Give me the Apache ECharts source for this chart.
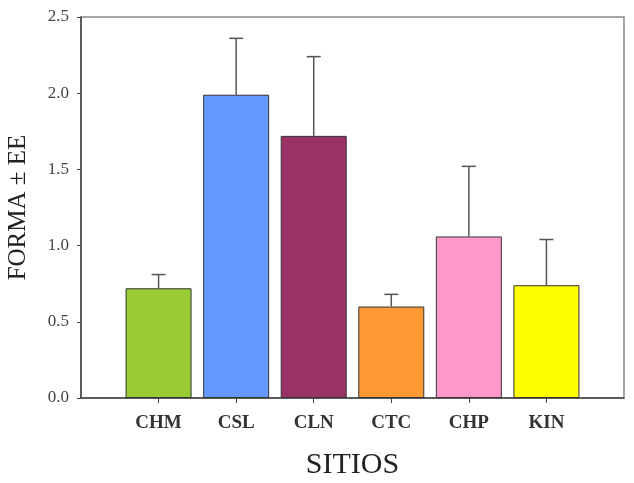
<!DOCTYPE html>
<html>
<head>
<meta charset="utf-8">
<script src="https://cdn.jsdelivr.net/npm/echarts@6/dist/echarts.min.js"></script>
<style>html,body{margin:0;padding:0;background:#fff}#c{width:634px;height:483px}</style>
</head>
<body>
<div id="c"></div>
<script>
const categories = ['CHM', 'CSL', 'CLN', 'CTC', 'CHP', 'KIN'];
const means = [0.72, 1.99, 1.72, 0.60, 1.06, 0.74];
const errors = [0.09, 0.37, 0.52, 0.08, 0.46, 0.30];
const colors = ['#99CC33', '#6699FF', '#993366', '#FF9933', '#FF99CC', '#FFFF00'];
const yTicks = ['0.0', '0.5', '1.0', '1.5', '2.0', '2.5'];

const axisCats = [''].concat(categories, ['']);
const barData = [{value: '-'}].concat(categories.map((c, i) => ({
  value: means[i], itemStyle: {color: colors[i]}
})), [{value: '-'}]);
const errData = categories.map((c, i) => [i + 1, means[i], means[i] + errors[i]]);

const chart = echarts.init(document.getElementById('c'), null, {renderer: 'canvas'});
chart.setOption({
  animation: false,
  backgroundColor: '#fff',
  grid: {left: 81, top: 17, right: 10, bottom: 85, show: true, borderColor: '#888', borderWidth: 1.5, containLabel: false, outerBoundsMode: 'none'},
  xAxis: {
    type: 'category',
    data: axisCats,
    boundaryGap: false,
    name: 'SITIOS',
    nameLocation: 'middle',
    nameGap: 52,
    nameTextStyle: {fontFamily: 'Liberation Serif', fontSize: 30, color: '#222'},
    axisLine: {lineStyle: {color: '#444', width: 1.5}},
    axisTick: {show: true, length: 5, lineStyle: {color: '#444'}, interval: (i) => i > 0 && i < axisCats.length - 1},
    axisLabel: {interval: 0, margin: 16, fontFamily: 'Liberation Serif', fontSize: 19, fontWeight: 'bold', color: '#333'},
    splitLine: {show: false}
  },
  yAxis: {
    type: 'value',
    min: 0, max: 2.5, interval: 0.5,
    name: 'FORMA ± EE',
    nameLocation: 'middle',
    nameGap: 50,
    nameTextStyle: {fontFamily: 'Liberation Serif', fontSize: 25, color: '#222'},
    axisLine: {show: true, lineStyle: {color: '#444', width: 1.5}},
    axisTick: {show: true, length: 4, lineStyle: {color: '#444'}},
    axisLabel: {margin: 12, fontFamily: 'Liberation Serif', fontSize: 17, color: '#444',
      formatter: (v) => yTicks[Math.round(v / 0.5)]},
    splitLine: {show: false}
  },
  series: [
    {
      type: 'custom',
      z: 1,
      data: errData,
      renderItem: function (params, api) {
        const x = api.value(0);
        const p0 = api.coord([x, api.value(1)]);
        const p1 = api.coord([x, api.value(2)]);
        const cap = 7;
        return {
          type: 'group',
          children: [
            {type: 'line', shape: {x1: p0[0], y1: p0[1], x2: p1[0], y2: p1[1]}, style: {stroke: '#555', lineWidth: 1.5}},
            {type: 'line', shape: {x1: p1[0] - cap, y1: p1[1], x2: p1[0] + cap, y2: p1[1]}, style: {stroke: '#555', lineWidth: 1.5}}
          ]
        };
      }
    },
    {
      type: 'bar',
      z: 2,
      barWidth: 66,
      data: barData,
      itemStyle: {borderColor: '#333', borderWidth: 1}
    }
  ]
});
</script>
</body>
</html>
